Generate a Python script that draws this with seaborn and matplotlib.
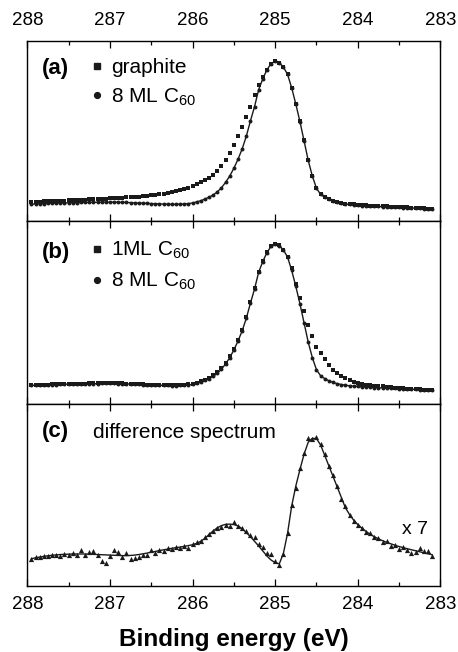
import numpy as np
import pandas as pd
import seaborn as sns
import matplotlib
matplotlib.use("Agg")
import matplotlib.pyplot as plt
from matplotlib.ticker import MultipleLocator, FuncFormatter
from matplotlib.lines import Line2D

# ---------------- data (binding energy grid, eV) ----------------
energy = np.round(np.arange(287.95, 283.09, -0.05), 2)

graphite = [
    0.106, 0.107, 0.108, 0.109, 0.110, 0.111, 0.112, 0.113, 0.114, 0.115,
    0.116, 0.117, 0.118, 0.119, 0.120, 0.121, 0.122, 0.123, 0.124, 0.126,
    0.127, 0.128, 0.130, 0.131, 0.133, 0.134, 0.136, 0.138, 0.140, 0.142,
    0.145, 0.148, 0.152, 0.156, 0.160, 0.165, 0.171, 0.177, 0.185, 0.195,
    0.205, 0.216, 0.227, 0.240, 0.256, 0.278, 0.304, 0.339, 0.376, 0.422,
    0.474, 0.524, 0.580, 0.635, 0.700, 0.756, 0.800, 0.842, 0.873, 0.889,
    0.880, 0.855, 0.815, 0.742, 0.652, 0.555, 0.448, 0.340, 0.253, 0.185,
    0.150, 0.134, 0.122, 0.113, 0.106, 0.101, 0.097, 0.094, 0.092, 0.090,
    0.088, 0.087, 0.085, 0.084, 0.083, 0.082, 0.081, 0.080, 0.079, 0.078,
    0.077, 0.076, 0.075, 0.074, 0.072, 0.071, 0.069, 0.068,
]

c60_8ml = [
    0.094, 0.095, 0.096, 0.097, 0.098, 0.099, 0.099, 0.100, 0.101, 0.101,
    0.102, 0.102, 0.103, 0.103, 0.104, 0.104, 0.104, 0.105, 0.105, 0.105,
    0.105, 0.104, 0.104, 0.103, 0.102, 0.101, 0.100, 0.099, 0.098, 0.097,
    0.096, 0.095, 0.094, 0.094, 0.093, 0.093, 0.094, 0.095, 0.097, 0.100,
    0.106, 0.113, 0.122, 0.132, 0.145, 0.162, 0.185, 0.215, 0.250, 0.293,
    0.343, 0.400, 0.470, 0.555, 0.635, 0.730, 0.790, 0.840, 0.875, 0.888,
    0.880, 0.855, 0.815, 0.740, 0.650, 0.552, 0.445, 0.337, 0.250, 0.182,
    0.148, 0.132, 0.120, 0.111, 0.104, 0.099, 0.095, 0.092, 0.090, 0.088,
    0.086, 0.085, 0.083, 0.082, 0.081, 0.080, 0.079, 0.078, 0.077, 0.076,
    0.075, 0.074, 0.073, 0.072, 0.070, 0.069, 0.067, 0.066,
]

c60_1ml = [
    0.095, 0.096, 0.097, 0.098, 0.098, 0.100, 0.100, 0.101, 0.102, 0.102,
    0.103, 0.103, 0.104, 0.104, 0.105, 0.105, 0.106, 0.106, 0.106, 0.106,
    0.106, 0.106, 0.105, 0.104, 0.103, 0.102, 0.101, 0.100, 0.099, 0.098,
    0.097, 0.096, 0.095, 0.095, 0.095, 0.095, 0.096, 0.098, 0.100, 0.104,
    0.110, 0.117, 0.126, 0.137, 0.150, 0.168, 0.191, 0.221, 0.257, 0.300,
    0.350, 0.408, 0.478, 0.560, 0.640, 0.732, 0.792, 0.842, 0.876, 0.888,
    0.882, 0.856, 0.818, 0.752, 0.663, 0.584, 0.512, 0.436, 0.370, 0.312,
    0.277, 0.243, 0.209, 0.181, 0.162, 0.148, 0.137, 0.126, 0.116, 0.108,
    0.103, 0.099, 0.096, 0.093, 0.090, 0.088, 0.086, 0.084, 0.082, 0.079,
    0.077, 0.076, 0.075, 0.073, 0.072, 0.070, 0.068, 0.066,
]

diff_points = [
    0.150, 0.160, 0.158, 0.165, 0.163, 0.170, 0.168, 0.163, 0.178, 0.172,
    0.180, 0.168, 0.196, 0.170, 0.187, 0.192, 0.170, 0.140, 0.128, 0.165,
    0.196, 0.188, 0.160, 0.180, 0.150, 0.156, 0.162, 0.170, 0.172, 0.198,
    0.182, 0.200, 0.192, 0.208, 0.202, 0.215, 0.210, 0.222, 0.210, 0.232,
    0.240, 0.250, 0.268, 0.286, 0.300, 0.318, 0.326, 0.334, 0.330, 0.352,
    0.328, 0.320, 0.300, 0.282, 0.268, 0.230, 0.215, 0.180, 0.178, 0.140,
    0.118, 0.175, 0.292, 0.445, 0.540, 0.648, 0.730, 0.812, 0.810, 0.818,
    0.780, 0.725, 0.662, 0.610, 0.548, 0.478, 0.440, 0.390, 0.360, 0.335,
    0.318, 0.296, 0.290, 0.268, 0.262, 0.240, 0.250, 0.220, 0.228, 0.205,
    0.215, 0.198, 0.182, 0.188, 0.210, 0.190, 0.192, 0.165,
]

diff_fit = [
    0.150, 0.155, 0.159, 0.163, 0.166, 0.169, 0.171, 0.173, 0.174, 0.175,
    0.176, 0.176, 0.176, 0.176, 0.175, 0.174, 0.173, 0.172, 0.171, 0.170,
    0.169, 0.168, 0.167, 0.167, 0.168, 0.170, 0.173, 0.177, 0.181, 0.186,
    0.190, 0.195, 0.199, 0.203, 0.207, 0.211, 0.214, 0.218, 0.222, 0.227,
    0.234, 0.246, 0.262, 0.283, 0.303, 0.320, 0.332, 0.339, 0.340, 0.338,
    0.330, 0.315, 0.294, 0.271, 0.246, 0.220, 0.193, 0.165, 0.143, 0.128,
    0.122, 0.180, 0.290, 0.440, 0.550, 0.640, 0.725, 0.790, 0.812, 0.810,
    0.775, 0.718, 0.660, 0.603, 0.545, 0.488, 0.430, 0.393, 0.362, 0.338,
    0.318, 0.300, 0.284, 0.271, 0.259, 0.249, 0.240, 0.232, 0.224, 0.217,
    0.211, 0.205, 0.199, 0.194, 0.188, 0.183, 0.177, 0.172,
]

xticks = [288, 287, 286, 285, 284, 283]
panel_labels = ["(a)", "(b)", "(c)"]
legend_a = ["graphite", "8 ML C$_{60}$"]
legend_b = ["1ML C$_{60}$", "8 ML C$_{60}$"]
caption_c = "difference spectrum"
scale_note = "x 7"
xlabel = "Binding energy (eV)"

# ---------------- style ----------------
sns.set_theme(style="white")
plt.rcParams["font.family"] = ["Liberation Sans", "DejaVu Sans"]
plt.rcParams["mathtext.fontset"] = "custom"
plt.rcParams["mathtext.rm"] = "Liberation Sans"
plt.rcParams["mathtext.it"] = "Liberation Sans:italic"
plt.rcParams["mathtext.bf"] = "Liberation Sans:bold"
plt.rcParams["axes.linewidth"] = 1.0
plt.rcParams["axes.edgecolor"] = "black"
plt.rcParams["text.color"] = "black"
plt.rcParams["axes.labelcolor"] = "black"
plt.rcParams["xtick.color"] = "black"
plt.rcParams["xtick.labelcolor"] = "black"

fig = plt.figure(figsize=(4.58, 6.52), dpi=100)
L, W = 0.0596, 0.902
axa = fig.add_axes([L, 0.661, W, 0.276])
axb = fig.add_axes([L, 0.3804, W, 0.2807])
axc = fig.add_axes([L, 0.1012, W, 0.2791])

df = pd.DataFrame({"E": energy, "graphite": graphite, "c8": c60_8ml,
                   "c1": c60_1ml, "dp": diff_points, "df": diff_fit})

# panel (a)
sns.scatterplot(data=df, x="E", y="graphite", marker="s", s=6, color="k",
                linewidth=0, ax=axa)
sns.scatterplot(data=df, x="E", y="c8", marker="o", s=8, color="k",
                linewidth=0, ax=axa)
sns.lineplot(data=df, x="E", y="c8", color="k", lw=1.0, ax=axa)

# panel (b)
sns.scatterplot(data=df, x="E", y="c1", marker="s", s=6, color="k",
                linewidth=0, ax=axb)
sns.scatterplot(data=df, x="E", y="c8", marker="o", s=8, color="k",
                linewidth=0, ax=axb)
sns.lineplot(data=df, x="E", y="c8", color="k", lw=1.0, ax=axb)

# panel (c)
sns.scatterplot(data=df, x="E", y="dp", marker="^", s=14, color="k",
                linewidth=0, ax=axc)
sns.lineplot(data=df, x="E", y="df", color="k", lw=1.0, ax=axc)

ylims = [(0, 1), (-0.0103, 1.018), (0, 1)]
for ax, lim, lab, ly in zip([axa, axb, axc], ylims, panel_labels,
                            [0.85, 0.83, 0.848]):
    ax.set_xlim(288, 283)
    ax.set_ylim(*lim)
    ax.set_yticks([])
    ax.set_xlabel("")
    ax.set_ylabel("")
    ax.set_xticks(xticks)
    ax.xaxis.set_minor_locator(MultipleLocator(0.5))
    ax.xaxis.set_major_formatter(FuncFormatter(lambda v, p: f"{v:.0f}"))
    ax.tick_params(axis="x", which="both", direction="in", top=True,
                   bottom=True, labelbottom=False, labeltop=False,
                   colors="black", labelsize=13.5)
    ax.tick_params(axis="x", which="major", length=5, width=0.9)
    ax.tick_params(axis="x", which="minor", length=3, width=0.9)
    for sp in ax.spines.values():
        sp.set_visible(True)
        sp.set_color("black")
        sp.set_linewidth(1.0)
    ax.text(0.0356, ly, lab, transform=ax.transAxes, fontsize=16,
            fontweight="bold", va="center", ha="left", color="black")

axa.tick_params(axis="x", which="major", labeltop=True, pad=9)
axc.tick_params(axis="x", which="major", labelbottom=True, pad=7)

def make_legend(ax, labels, anchor):
    h1 = Line2D([], [], marker="s", ls="", color="k", markersize=4.2)
    h2 = Line2D([], [], marker="o", ls="", color="k", markersize=4.2)
    ax.legend([h1, h2], labels, loc="upper left", bbox_to_anchor=anchor,
              frameon=False, fontsize=15, handlelength=0.6,
              handletextpad=0.4, labelspacing=0.45, borderpad=0,
              borderaxespad=0, labelcolor="black")

make_legend(axa, legend_a, (0.153, 0.905))
make_legend(axb, legend_b, (0.153, 0.895))

axc.text(0.16, 0.845, caption_c, transform=axc.transAxes, fontsize=15,
         va="center", ha="left", color="black")
axc.text(0.938, 0.308, scale_note, transform=axc.transAxes, fontsize=14,
         va="center", ha="center", color="black")

axc.set_xlabel(xlabel, fontsize=17.5, fontweight="bold", labelpad=11,
               color="black")

fig.savefig("out.png", dpi=100)
